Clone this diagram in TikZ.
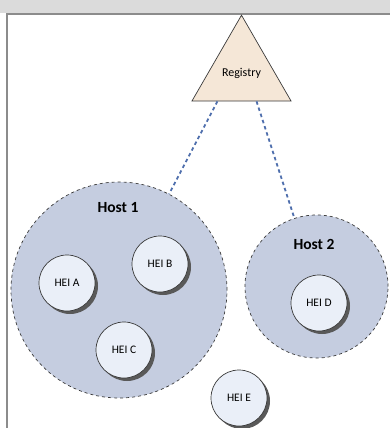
\documentclass[tikz,border=0pt]{standalone}
\usepackage{fontspec}
\setmainfont{Carlito}
\usetikzlibrary{shapes.geometric,calc,shadows}
\definecolor{hostfill}{HTML}{C5CDE0}
\definecolor{heifill}{HTML}{EAEFF8}
\definecolor{regfill}{HTML}{F5E7D7}
\definecolor{linkblue}{HTML}{4F6FAD}
\definecolor{edge}{HTML}{3A3A3A}
\tikzset{
  host/.style={circle, draw=edge, fill=hostfill, dashed, line width=0.7pt, inner sep=0pt},
  hei/.style={circle, draw=edge, fill=heifill, line width=0.7pt, minimum size=56pt, inner sep=0pt, font=\fontsize{11.5}{13}\selectfont,
    drop shadow={shadow xshift=3pt, shadow yshift=-3pt, fill=black!65, opacity=1}},
  hostlabel/.style={font=\fontsize{15.5}{17}\selectfont\bfseries, inner sep=0pt},
  link/.style={draw=linkblue, line width=1.8pt, dash pattern=on 3.5pt off 3pt},
  registry/.style={regular polygon, regular polygon sides=3, minimum size=114.4pt, inner sep=0pt, draw=edge, fill=regfill, line width=0.7pt}
}
\begin{document}
\begin{tikzpicture}[x=1pt,y=-1pt]
\useasboundingbox (0,0) rectangle (390,428);
% window frame
\fill[black!14] (0,0) rectangle (390,13);
\draw[black!45, line width=1.2pt] (390,14) -- (7,14) -- (7,428);
% registry
\node[registry] (reg) at (241.5,72.4) {};
\node[font=\fontsize{12}{14}\selectfont, inner sep=0pt] (regtxt) at (241.5,73) {Registry};
% hosts
\node[host, minimum size=216pt] (h1) at (119,290) {};
\node[host, minimum size=143pt] (h2) at (316.5,286.5) {};
\node[hostlabel] (h1l) at (118,208) {Host 1};
\node[hostlabel] (h2l) at (314,244) {Host 2};
% links
\coordinate (r1) at ($(reg.corner 2)!0.26!(reg.corner 3)$);
\coordinate (r2) at ($(reg.corner 2)!0.65!(reg.corner 3)$);
\draw[link] (r1) -- (h1);
\draw[link] (r2) -- (h2);
% HEIs
\node[hei] (a) at (67,283) {HEI A};
\node[hei] (b) at (160,264) {HEI B};
\node[hei] (c) at (124,350) {HEI C};
\node[hei] (d) at (319,303) {HEI D};
\node[hei] (e) at (239,398) {HEI E};
\end{tikzpicture}
\end{document}
